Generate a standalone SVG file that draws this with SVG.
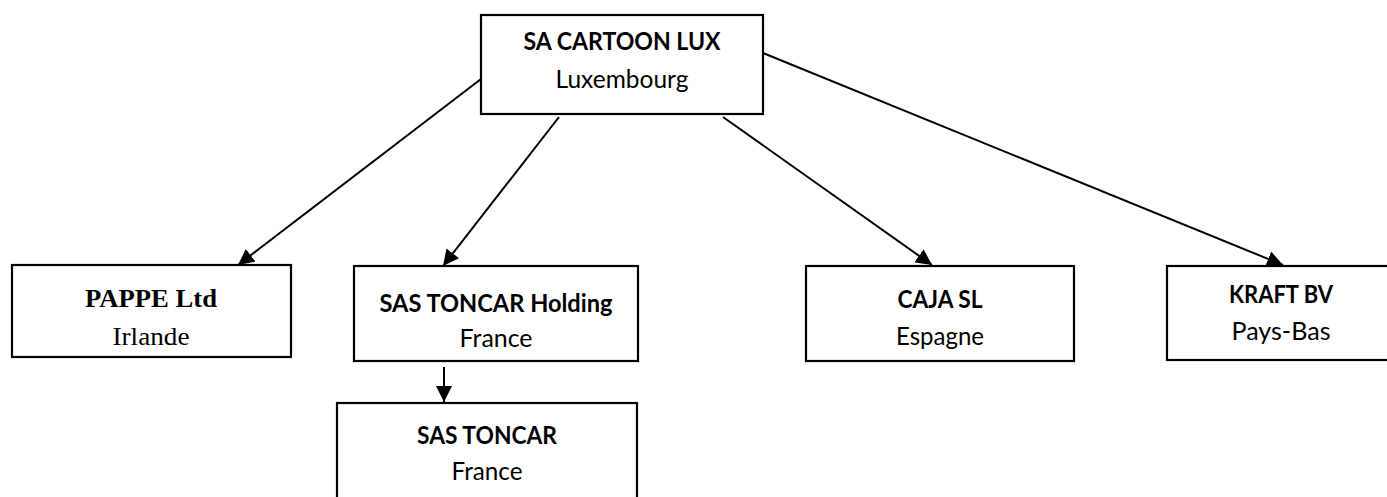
<svg xmlns="http://www.w3.org/2000/svg" width="1387" height="497" viewBox="0 0 1387 497">
<style>
.box{fill:#fff;stroke:#000;stroke-width:2.2}
.t{font-family:Lato,"Open Sans","Liberation Sans",sans-serif;font-size:25.5px;fill:#000;text-anchor:middle}
.b{font-weight:bold}
.s{font-family:"Liberation Serif","Times New Roman",serif;font-size:25px;fill:#000;text-anchor:middle}
.c{stroke:#000;stroke-width:2;fill:none;marker-end:url(#ah)}
</style>
<defs>
<marker id="ah" markerUnits="userSpaceOnUse" markerWidth="18" markerHeight="16" refX="16" refY="8" orient="auto">
<path d="M0,0 L16,8 L0,16 z" fill="#000"/>
</marker>
</defs>
<g id="connectors">
<line class="c" x1="481" y1="79" x2="238" y2="265"/>
<line class="c" x1="559" y1="117" x2="443" y2="266"/>
<line class="c" x1="723" y1="117" x2="932" y2="265"/>
<line class="c" x1="763" y1="53" x2="1283" y2="265"/>
<line class="c" x1="444" y1="367" x2="444" y2="402"/>
</g>
<g id="sa-cartoon-lux">
<rect class="box" x="481" y="15" width="282" height="99"/>
<text class="t b" x="622" y="50" textLength="197" lengthAdjust="spacingAndGlyphs">SA CARTOON LUX</text>
<text class="t" x="622" y="88" textLength="133" lengthAdjust="spacingAndGlyphs">Luxembourg</text>
</g>
<g id="pappe-ltd">
<rect class="box" x="12" y="265" width="279" height="92"/>
<text class="s b" x="151" y="307" textLength="132" lengthAdjust="spacingAndGlyphs">PAPPE Ltd</text>
<text class="s" x="151" y="345" textLength="77" lengthAdjust="spacingAndGlyphs">Irlande</text>
</g>
<g id="sas-toncar-holding">
<rect class="box" x="354" y="266" width="284" height="95"/>
<text class="t b" x="496" y="312" textLength="233" lengthAdjust="spacingAndGlyphs">SAS TONCAR Holding</text>
<text class="t" x="496" y="347" textLength="73" lengthAdjust="spacingAndGlyphs">France</text>
</g>
<g id="sas-toncar">
<rect class="box" x="337" y="403" width="300" height="110"/>
<text class="t b" x="487" y="444" textLength="140" lengthAdjust="spacingAndGlyphs">SAS TONCAR</text>
<text class="t" x="487" y="480" textLength="71" lengthAdjust="spacingAndGlyphs">France</text>
</g>
<g id="caja-sl">
<rect class="box" x="806" y="266" width="268" height="95"/>
<text class="t b" x="940" y="308" textLength="85" lengthAdjust="spacingAndGlyphs">CAJA SL</text>
<text class="t" x="940" y="345" textLength="88" lengthAdjust="spacingAndGlyphs">Espagne</text>
</g>
<g id="kraft-bv">
<rect class="box" x="1167" y="266" width="228" height="94"/>
<text class="t b" x="1281" y="303" textLength="104" lengthAdjust="spacingAndGlyphs">KRAFT BV</text>
<text class="t" x="1281" y="340" textLength="99" lengthAdjust="spacingAndGlyphs">Pays-Bas</text>
</g>
</svg>
